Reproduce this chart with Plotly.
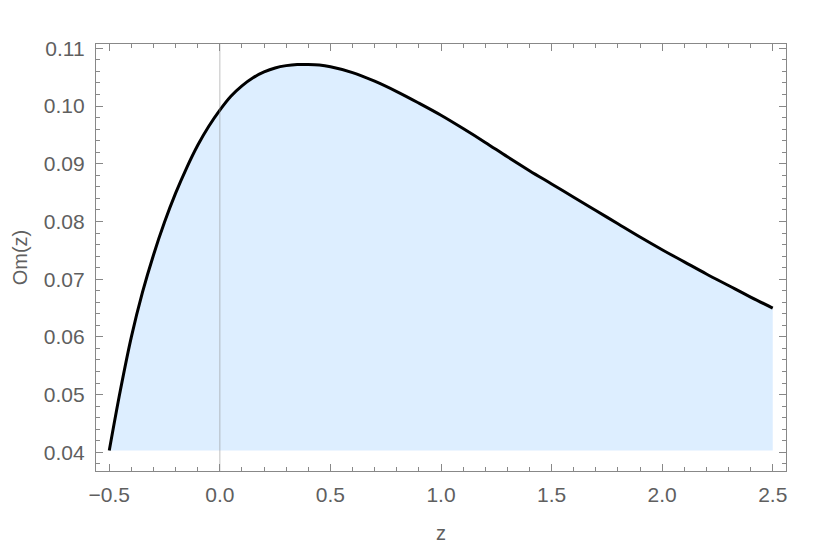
import plotly.graph_objects as go

z_vals = [-0.50, -0.45, -0.40, -0.35, -0.30, -0.25, -0.20, -0.15, -0.10, -0.05,
          0.00, 0.05, 0.10, 0.15, 0.20, 0.25, 0.30, 0.35, 0.40, 0.45, 0.50,
          0.60, 0.70, 0.80, 0.90, 1.00, 1.10, 1.20, 1.30, 1.40, 1.50, 1.60,
          1.70, 1.80, 1.90, 2.00, 2.10, 2.20, 2.30, 2.40, 2.50]
om_vals = [0.0403, 0.0507, 0.0600, 0.0677, 0.0742, 0.0799, 0.0849, 0.0893, 0.0932, 0.0965,
           0.0993, 0.1017, 0.1035, 0.1049, 0.1059, 0.1066, 0.1070, 0.1072, 0.1072, 0.1071, 0.1068,
           0.1058, 0.1043, 0.1025, 0.1005, 0.0984, 0.0961, 0.0937, 0.0912, 0.0888, 0.0865, 0.0842,
           0.0819, 0.0796, 0.0773, 0.0751, 0.0730, 0.0709, 0.0689, 0.0669, 0.0650]

x_ticks = [-0.5, 0.0, 0.5, 1.0, 1.5, 2.0, 2.5]
y_ticks = [0.04, 0.05, 0.06, 0.07, 0.08, 0.09, 0.10, 0.11]
x_range = [-0.56, 2.56]
y_range = [0.03676, 0.11075]

base = min(om_vals)
fill_color = "rgb(221,238,255)"
frame_color = "rgb(136,136,136)"
label_color = "rgb(95,95,95)"
font_family = "Liberation Sans, Arial, sans-serif"

fig = go.Figure()
fig.add_trace(go.Scatter(x=z_vals, y=[base] * len(z_vals), mode="lines",
                         line=dict(width=0, color=fill_color), hoverinfo="skip",
                         showlegend=False))
fig.add_trace(go.Scatter(x=z_vals, y=om_vals, mode="lines", fill="tonexty",
                         fillcolor=fill_color,
                         line=dict(color="black", width=3, shape="spline"),
                         showlegend=False))

# vertical axis line at z = 0
fig.add_shape(type="line", x0=0, x1=0, y0=0, y1=1, xref="x", yref="paper",
              line=dict(color="rgba(140,140,140,0.55)", width=1), layer="above")

axis_common = dict(
    showline=True, linecolor=frame_color, linewidth=1.3,
    mirror="allticks", ticks="inside", tickcolor=frame_color, tickwidth=1,
    ticklen=7, showgrid=False, zeroline=False, automargin=False,
    tickfont=dict(family=font_family, size=21, color=label_color),
)

fig.update_xaxes(
    range=x_range, tickvals=x_ticks, ticktext=[("\u2212" if t < 0 else "") + f"{abs(t):.1f}" for t in x_ticks],
    minor=dict(dtick=0.1, tick0=0, ticks="inside", ticklen=4, tickcolor=frame_color, showgrid=False),
    title=dict(text="z", font=dict(family=font_family, size=20, color=label_color), standoff=20),
    ticklabelstandoff=5,
    **axis_common,
)
fig.update_yaxes(
    range=y_range, tickvals=y_ticks, ticktext=[f"{t:.2f}" for t in y_ticks],
    minor=dict(dtick=0.002, tick0=0, ticks="inside", ticklen=4, tickcolor=frame_color, showgrid=False),
    title=dict(text="Om(z)", font=dict(family=font_family, size=20, color=label_color), standoff=10),
    ticklabelstandoff=6,
    **axis_common,
)

fig.update_layout(
    width=822, height=546,
    margin=dict(l=88, r=44, t=36, b=83),
    plot_bgcolor="white", paper_bgcolor="white",
    showlegend=False,
)

fig.write_html("out.html")
